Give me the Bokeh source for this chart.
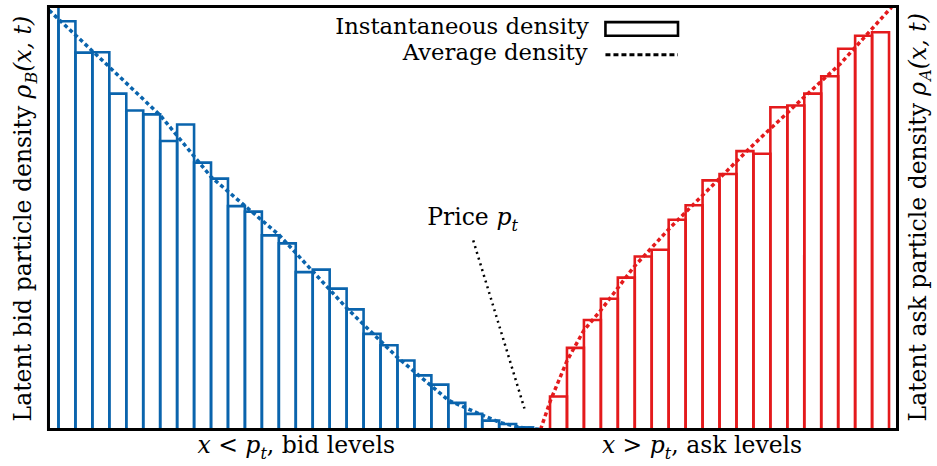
import math
from bokeh.plotting import figure
from bokeh.models import Range1d, Label
from bokeh.embed import file_html
from bokeh.resources import INLINE

# ---------------- data ----------------
# bid side: price levels (left edge of each unit-wide bin) and instantaneous density
bid_level_left = list(range(-29, 0))
bid_density = [103.0, 96.5, 89.1, 89.2, 79.4, 75.4, 74.5, 68.2, 72.1, 63.1,
               59.3, 52.8, 51.5, 45.9, 44.0, 37.2, 37.8, 33.3, 28.4, 22.6,
               19.9, 16.3, 12.8, 10.6, 6.3, 3.7, 2.1, 1.3, 0.5]

# ask side
ask_level_left = list(range(1, 21))
ask_density = [7.8, 19.3, 25.9, 30.9, 35.9, 40.9, 42.5, 49.6, 53.0, 58.9,
               60.4, 65.8, 65.2, 76.2, 76.6, 79.4, 83.5, 90.0, 93.1, 93.9]

# average densities
bid_avg_x = [-28.55, -25.5, -21.98, -18.97, -14.96, -10.97, -8.02, -4.99, -3.0, -1.98, -0.8, 0.44]
bid_avg_y = [99.1, 87.6, 74.2, 59.6, 45.9, 28.6, 17.1, 6.9, 3.4, 1.7, 0.5, 0.0]
ask_avg_x = [0.44, 1.03, 2.01, 2.99, 3.98, 5.94, 8.11, 12.83, 15.78, 18.14, 20.89, 21.15]
ask_avg_y = [0.0, 6.9, 16.3, 23.4, 28.1, 38.4, 47.8, 66.7, 77.8, 86.5, 98.7, 99.8]

# pointer from the "Price" annotation to the price level
price_pointer_x = [-3.53, -0.51]
price_pointer_y = [44.7, 4.96]

# visible level range and density range of the panel
X_MIN, X_MAX = -28.59, 21.5
Y_MIN, Y_MAX = 0.0, 100.0

BLUE = "#0a64ad"
RED = "#e41a1c"
FONT = "DejaVu Serif"

W, H = 937, 466
p = figure(width=W, height=H, output_backend="svg", toolbar_location=None,
           x_range=Range1d(-31.42, 23.86), y_range=Range1d(-8.75, 101.42),
           x_axis_type=None, y_axis_type=None,
           min_border_left=0, min_border_right=0,
           min_border_top=0, min_border_bottom=0)
p.grid.visible = False
p.outline_line_color = None
p.background_fill_color = "white"
p.border_fill_color = "white"


def clipx(v):
    return min(max(v, X_MIN), X_MAX)


def clipy(v):
    return min(max(v, Y_MIN), Y_MAX)


# bars (instantaneous density), clipped to the panel
p.quad(left=[clipx(v) for v in bid_level_left], right=[clipx(v + 1) for v in bid_level_left],
       bottom=0, top=[clipy(v) for v in bid_density],
       fill_alpha=0, line_color=BLUE, line_width=2.6, line_join="miter")
p.quad(left=[clipx(v) for v in ask_level_left], right=[clipx(v + 1) for v in ask_level_left],
       bottom=0, top=[clipy(v) for v in ask_density],
       fill_alpha=0, line_color=RED, line_width=2.6, line_join="miter")

# average densities
p.line(bid_avg_x, bid_avg_y, line_color=BLUE, line_width=3.5, line_dash="4 3")
p.line(ask_avg_x, ask_avg_y, line_color=RED, line_width=3.5, line_dash="4 3")

# price pointer
p.line(price_pointer_x, price_pointer_y, line_color="black", line_width=2.5, line_dash="2 4")

# panel border
p.quad(left=[X_MIN], right=[X_MAX], bottom=[Y_MIN], top=[Y_MAX],
       fill_alpha=0, line_color="black", line_width=3, line_join="miter")

# legend (manual: text left of the symbol)
leg_x0, leg_x1 = 4.27, 8.55
p.quad(left=[leg_x0], right=[leg_x1], bottom=[93.1], top=[96.3],
       fill_color="white", line_color="black", line_width=2.6, line_join="miter")
p.line([leg_x0, leg_x1], [88.6, 88.6], line_color="black", line_width=3, line_dash="5 3")

# ---------------- text ----------------
EM = {' ': .318, 'a': .596, 'b': .640, 'c': .560, 'd': .640, 'e': .592, 'i': .320,
      'l': .320, 'n': .644, 'o': .602, 'p': .640, 'r': .478, 's': .513, 't': .402,
      'v': .565, 'x': .564, 'y': .565, 'k': .612, 'P': .684, 'L': .646, '<': .838,
      '>': .838, ',': .318, '(': .390, ')': .390, 'B': .732, 'A': .722, 'ρ': .640,
      'I': .373, 'g': .640, 'u': .644}
BASE_FIX = 0.44  # em, lifts the alphabetic baseline to the anchor


def width(s, size):
    return sum(EM.get(ch, 0.6) for ch in s) * size


def compose(x, y, pieces, angle=0.0, align="left"):
    total = sum(width(t, s) for t, s, _, _ in pieces)
    pos = 0.0 if align == "left" else (-total if align == "right" else -total / 2)
    for t, s, it, sh in pieces:
        lead = width(t[:len(t) - len(t.lstrip())], s)
        along = pos + lead
        perp = sh + BASE_FIX * s
        if angle == 0:
            xo, yo = along, perp
        else:
            xo, yo = -perp, along
        p.add_layout(Label(x=x, y=y, x_units="data", y_units="data", text=t.strip(),
                           x_offset=xo, y_offset=yo, angle=angle,
                           text_font=FONT, text_font_size=f"{s}px",
                           text_font_style="italic" if it else "normal",
                           text_baseline="alphabetic", text_align="left",
                           text_color="black"))
        pos += width(t, s)


S = 22.7
T = 23.5
SUB = 16
compose(3.27, 93.1, [("Instantaneous density", S, False, 0)], align="right")
compose(3.27, 86.8, [("Average density", S, False, 0)], align="right")

compose(-6.25, 47.8, [("Price ", T, False, 0), ("p", T, True, 0), ("t", SUB, True, -5)])

compose(-19.8, -6.1, [("x", T, True, 0), (" < ", T, False, 0), ("p", T, True, 0),
                      ("t", SUB, True, -5), (", bid levels", T, False, 0)])
compose(4.06, -6.1, [("x", T, True, 0), (" > ", T, False, 0), ("p", T, True, 0),
                     ("t", SUB, True, -5), (", ask levels", T, False, 0)])

R = 23.5
RS = 16
compose(-29.5, 1.9, [("Latent bid particle density ", R, False, 0), ("ρ", R, True, 0),
                     ("B", RS, True, -5), ("(x, t)", R, True, 0)], angle=math.pi / 2)
compose(23.3, 1.9, [("Latent ask particle density ", R, False, 0), ("ρ", R, True, 0),
                    ("A", RS, True, -5), ("(x, t)", R, True, 0)], angle=math.pi / 2)

open("out.html", "w").write(file_html(p, INLINE))
